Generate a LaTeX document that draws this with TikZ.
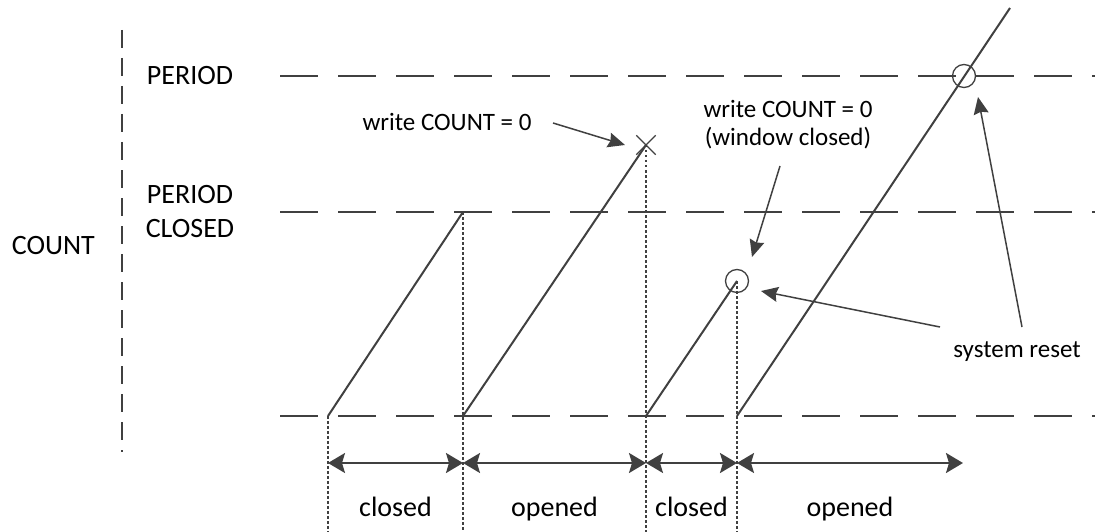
\documentclass[tikz,border=0pt]{standalone}
\usepackage{fontspec}
\setmainfont{Carlito}
\usetikzlibrary{arrows.meta,shapes.misc,positioning}
\definecolor{linegray}{HTML}{404040}
\tikzset
{
    countlevel/.style = {draw=linegray, line width=2.2pt, dash pattern=on 38pt off 20pt},
    countaxis/.style  = {draw=linegray, line width=2pt, dash pattern=on 18pt off 10pt},
    ramp/.style       = {draw=linegray, line width=2pt},
    guide/.style      = {draw=linegray, line width=1.6pt, dash pattern=on 2.5pt off 2.5pt},
    span/.style       = {draw=linegray, line width=2pt, {Stealth[length=17pt,width=20pt,inset=3pt]}-{Stealth[length=17pt,width=20pt,inset=3pt]}},
    pointer/.style    = {draw=linegray, line width=1.5pt, -{Stealth[length=17pt,width=15pt,inset=2pt]}},
    markcircle/.style = {circle, draw=linegray, line width=1.3pt, minimum size=23pt, inner sep=0pt},
    markcross/.style  = {cross out, draw=linegray, line width=1.3pt, minimum size=18pt, inner sep=0pt},
    biglabel/.style   = {font=\fontsize{28}{34}\selectfont, inner sep=0pt},
    note/.style       = {font=\fontsize{25}{28}\selectfont, inner sep=0pt},
    phase/.style      = {font=\fontsize{28}{34}\selectfont, inner sep=0pt, text height=0.75em, text depth=0.25em}
}

\begin{document}
\begin{tikzpicture}[x=1pt, y=-1pt]
\useasboundingbox (0,0) rectangle (1095,532);

% count axis and levels
\coordinate (axtop) at (122,30);
\coordinate (axbot) at (122,452);
\draw[countaxis] (axtop) -- (axbot);
\coordinate (periodl) at (280,76);   \coordinate (periodr) at (1095,76);
\coordinate (closedl) at (280,212);  \coordinate (closedr) at (1095,212);
\coordinate (zerol)   at (280,416);  \coordinate (zeror)   at (1095,416);
\draw[countlevel] (periodl) -- (periodr);
\draw[countlevel] (closedl) -- (closedr);
\draw[countlevel] (zerol) -- (zeror);

\node[biglabel] (period) at (190,76) {PERIOD};
\node[biglabel, align=center] (periodclosed) at (190,212) {PERIOD\\CLOSED};
\node[biglabel, anchor=east] (count) at (95,246) {COUNT};

% counter ramps
\coordinate (r1a) at (328,416);  \coordinate (r1b) at (463,212);
\coordinate (r2a) at (463,416);  \coordinate (r2b) at (646,145);
\coordinate (r3a) at (646,416);  \coordinate (r3b) at (737,281);
\coordinate (r4a) at (737,416);  \coordinate (r4b) at (1010,8);
\draw[ramp] (r1a) -- (r1b);
\draw[ramp] (r2a) -- (r2b);
\draw[ramp] (r3a) -- (r3b);
\draw[ramp] (r4a) -- (r4b);

\node[markcross] (wzero) at (r2b) {};
\node[markcircle] (wclosed) at (r3b) {};
\node[markcircle] (reset) at (964,76) {};

% guides down to the time axis
\coordinate (g1) at (328,532);
\coordinate (g2) at (463,532);
\coordinate (g3) at (646,532);
\coordinate (g4) at (737,532);
\draw[guide] (r1a) -- (g1);
\draw[guide] (r1b) -- (g2);
\draw[guide] (r2b) -- (g3);
\draw[guide] (r3b) -- (g4);

% window phases
\coordinate (s1) at (328,463);
\coordinate (s2) at (463,463);
\coordinate (s3) at (646,463);
\coordinate (s4) at (737,463);
\coordinate (s5) at (963,463);
\draw[span] (s1) -- node[phase, yshift=-51pt] (ph1) {closed} (s2);
\draw[span] (s2) -- node[phase, yshift=-51pt] (ph2) {opened} (s3);
\draw[span] (s3) -- node[phase, yshift=-51pt] (ph3) {closed} (s4);
\draw[span] (s4) -- node[phase, yshift=-51pt] (ph4) {opened} (s5);

% notes
\node[note] (wz1) at (447,122) {write COUNT = 0};
\node[note, align=center] (wz2) at (788,125) {write COUNT = 0\\(window closed)};
\node[note] (sysreset) at (1017,352) {system reset};

\coordinate (wz1tail) at (553,123);   \coordinate (wz1tip) at (625,145);
\coordinate (wz2tail) at (780,166);   \coordinate (wz2tip) at (752,257);
\coordinate (sr1tail) at (940,327);   \coordinate (sr1tip) at (761,291);
\coordinate (sr2tail) at (1022,327);  \coordinate (sr2tip) at (978,97);
\draw[pointer] (wz1tail) -- (wz1tip);
\draw[pointer] (wz2tail) -- (wz2tip);
\draw[pointer] (sr1tail) -- (sr1tip);
\draw[pointer] (sr2tail) -- (sr2tip);
\end{tikzpicture}
\end{document}
